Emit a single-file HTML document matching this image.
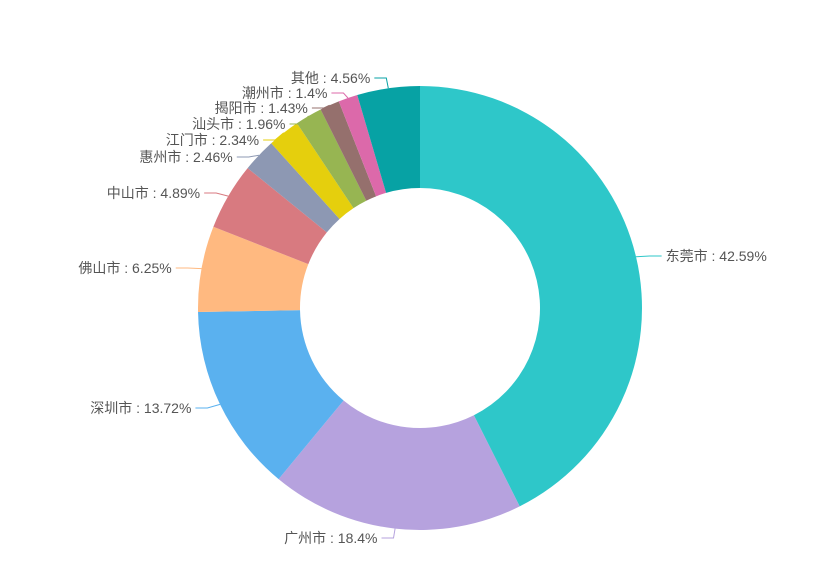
<!DOCTYPE html>
<html><head><meta charset="utf-8"><style>
html,body{margin:0;padding:0;background:#fff;}
svg{display:block;font-family:"Liberation Sans","Noto Sans CJK SC",sans-serif;}
</style></head><body>
<svg id="chart" width="820" height="585" viewBox="0 0 820 585" xmlns="http://www.w3.org/2000/svg"></svg>
<script>
const categories = ["东莞市","广州市","深圳市","佛山市","中山市","惠州市","江门市","汕头市","揭阳市","潮州市","其他"];
const values = [42.59,18.4,13.72,6.25,4.89,2.46,2.34,1.96,1.43,1.4,4.56];
const colors = ["#2ec7c9","#b6a2de","#5ab1ef","#ffb980","#d87a80","#8d98b3","#e5cf0d","#97b552","#95706d","#dc69aa","#07a2a4"];
// label layout (y centre of each label) — layout, not data
const labelY = [256,538,408,268,193,157,140,124,108,93,78];

const svg = document.getElementById('chart');
const NS = 'http://www.w3.org/2000/svg';
const cx = 420, cy = 308, R = 222, r = 120;
const total = values.reduce((a,b)=>a+b,0);
function pt(a, rad){ return [cx + rad*Math.sin(a), cy - rad*Math.cos(a)]; }
let start = 0;
values.forEach((v,i)=>{
  const ang = v/total*2*Math.PI;
  const a0 = start, a1 = start + ang;
  const large = ang > Math.PI ? 1 : 0;
  const [x0,y0] = pt(a0,R), [x1,y1] = pt(a1,R), [x2,y2] = pt(a1,r), [x3,y3] = pt(a0,r);
  const p = document.createElementNS(NS,'path');
  p.setAttribute('d',`M${x0},${y0} A${R},${R} 0 ${large} 1 ${x1},${y1} L${x2},${y2} A${r},${r} 0 ${large} 0 ${x3},${y3} Z`);
  p.setAttribute('fill',colors[i]);
  
  
  svg.appendChild(p);

  const mid = a0 + ang/2;
  const right = Math.sin(mid) >= 0;
  const [ex,ey] = pt(mid,R);
  const [lx] = pt(mid,R+14);
  const ly = labelY[i];
  const endX = right ? lx + 12 : lx - 12;
  const line = document.createElementNS(NS,'polyline');
  line.setAttribute('points',`${ex},${ey} ${lx},${ly} ${endX},${ly}`);
  line.setAttribute('fill','none');
  line.setAttribute('stroke',colors[i]);
  line.setAttribute('stroke-width','1');
  
  
  svg.appendChild(line);

  const t = document.createElementNS(NS,'text');
  t.setAttribute('x', right ? endX + 4 : endX - 4);
  t.setAttribute('y', ly + 5);
  t.setAttribute('text-anchor', right ? 'start' : 'end');
  t.setAttribute('font-size','14');
  t.setAttribute('fill','#555');
  
  
  t.textContent = categories[i] + ' : ' + v + '%';
  svg.appendChild(t);
  start = a1;
});
</script>
</body></html>
